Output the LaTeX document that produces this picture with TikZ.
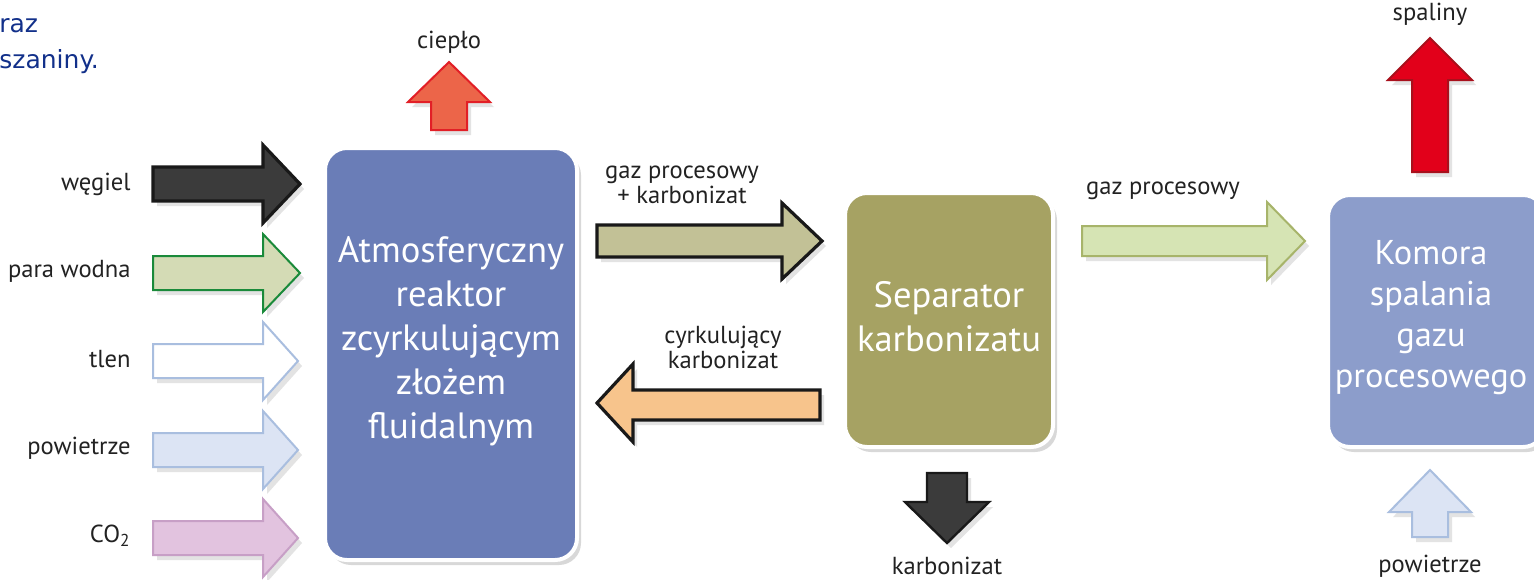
\documentclass[tikz,border=0pt]{standalone}
\usepackage{fontspec}
\setmainfont{PT Sans}
\newfontfamily\bluefont{DejaVu Sans}
\usetikzlibrary{shadows}
\definecolor{reactorC}{HTML}{6A7DB7}
\definecolor{sepC}{HTML}{A6A263}
\definecolor{komC}{HTML}{8C9DCB}
\definecolor{coalC}{HTML}{3B3B3B}
\definecolor{paraF}{HTML}{D4DBB5}
\definecolor{paraD}{HTML}{1A8A3A}
\definecolor{airF}{HTML}{DCE4F4}
\definecolor{airD}{HTML}{A9BEDF}
\definecolor{coF}{HTML}{E2C3DF}
\definecolor{coD}{HTML}{C79FC6}
\definecolor{heatF}{HTML}{EC6549}
\definecolor{heatD}{HTML}{E21F26}
\definecolor{exF}{HTML}{E2001A}
\definecolor{exD}{HTML}{A8101C}
\definecolor{gkF}{HTML}{C2C196}
\definecolor{cyF}{HTML}{F7C48C}
\definecolor{gpF}{HTML}{D6E4B4}
\definecolor{gpD}{HTML}{A7B46A}
\definecolor{txtC}{HTML}{222222}
\definecolor{blueT}{HTML}{12308A}
\tikzset{
  arr/.style={line width=1pt, line join=miter, drop shadow={opacity=0.22, shadow xshift=2pt, shadow yshift=-2.5pt}},
  darr/.style={arr, line width=1.6pt, draw=black!90},
  box/.style={draw=white, line width=2pt, rounded corners=11pt,
    drop shadow={opacity=0.3, shadow xshift=2pt, shadow yshift=-2.5pt}},
  lbl/.style={text=txtC, font=\fontsize{12.3}{12.5}\selectfont, align=center, inner sep=0pt},
  boxtxt/.style={text=white, font=\fontsize{18.3}{22}\selectfont, align=center, inner sep=0pt},
  bluetxt/.style={text=blueT, font=\bluefont\fontsize{12.5}{13}\selectfont, anchor=west, inner sep=0pt}
}
% right arrow: style, x0, xbase, xtip, yc, shaft half, head half
\newcommand\rarr[7]{\draw[#1] (#2,#5-#6) -- (#3,#5-#6) -- (#3,#5-#7) -- (#4,#5) -- (#3,#5+#7) -- (#3,#5+#6) -- (#2,#5+#6) -- cycle;}
% vertical arrow: style, xc, y0 (shaft end), ybase, ytip, shaft half, head half
\newcommand\varr[7]{\draw[#1] (#2-#6,#3) -- (#2-#6,#4) -- (#2-#7,#4) -- (#2,#5) -- (#2+#7,#4) -- (#2+#6,#4) -- (#2+#6,#3) -- cycle;}
\begin{document}
\begin{tikzpicture}[x=0.5pt,y=-0.5pt]
\useasboundingbox[fill=white] (0,0) rectangle (1534,579);

% partly visible text at top left
\node[bluetxt] (t1) at (-1,26) {raz};
\node[bluetxt] (t2) at (-1,62) {szaniny.};

% boxes
\draw[box, fill=reactorC] (325,148) rectangle (577,560);
\node[boxtxt] (reactor) at (451,341) {Atmosferyczny\\reaktor\\zcyrkulującym\\złożem\\fluidalnym};
\draw[box, fill=sepC] (845,193) rectangle (1053,447);
\node[boxtxt] (sep) at (949,317) {Separator\\karbonizatu};
\draw[box, fill=komC] (1328,195) rectangle (1545,447);
\node[boxtxt, font=\fontsize{17.2}{20.5}\selectfont] (kom) at (1431,318) {Komora\\spalania\\gazu\\procesowego};

% input arrows
\rarr{darr, fill=coalC}{153}{263}{300}{184}{17}{39}
\rarr{arr, draw=paraD, fill=paraF}{153}{263}{300}{273}{17}{39}
\rarr{arr, draw=airD, fill=white}{153}{263}{298}{361}{17}{39}
\rarr{arr, draw=airD, fill=airF}{153}{263}{298}{450}{17}{39}
\rarr{arr, draw=coD, fill=coF}{153}{263}{298}{538}{17}{39}
\node[lbl, anchor=east] (l1) at (131,184) {węgiel};
\node[lbl, anchor=east] (l2) at (131,271) {para wodna};
\node[lbl, anchor=east] (l3) at (131,359) {tlen};
\node[lbl, anchor=east] (l4) at (131,448) {powietrze};
\node[lbl, anchor=east] (l5) at (131,536) {CO\textsubscript{2}};

% heat
\varr{arr, draw=heatD, fill=heatF}{449}{130}{102}{62}{18}{41}
\node[lbl] (heat) at (449,42) {ciepło};

% gas + char to separator
\rarr{darr, fill=gkF}{597}{782}{822}{241}{16}{38}
\node[lbl] (gk) at (682,185) {gaz procesowy\\+ karbonizat};

% circulating char back
\draw[darr, fill=cyF] (820,390) -- (633,390) -- (633,364) -- (597,403) -- (633,442) -- (633,420) -- (820,420) -- cycle;
\node[lbl] (cy) at (723,347) {cyrkulujący\\karbonizat};

% char out
\varr{darr, line width=1.2pt, fill=coalC}{947}{473}{502}{543}{20}{42}
\node[lbl] (ch) at (947,566) {karbonizat};

% process gas to chamber
\rarr{arr, draw=gpD, fill=gpF}{1082}{1267}{1305}{241}{15}{39}
\node[lbl] (gp) at (1163,191) {gaz procesowy};

% exhaust
\varr{arr, draw=exD, fill=exF}{1430}{172}{80}{38}{18}{42}
\node[lbl] (ex) at (1430,14) {spaliny};

% air to chamber
\varr{arr, draw=airD, fill=airF}{1430}{537}{512}{470}{18}{41}
\node[lbl] (air) at (1430,566) {powietrze};
\end{tikzpicture}
\end{document}
